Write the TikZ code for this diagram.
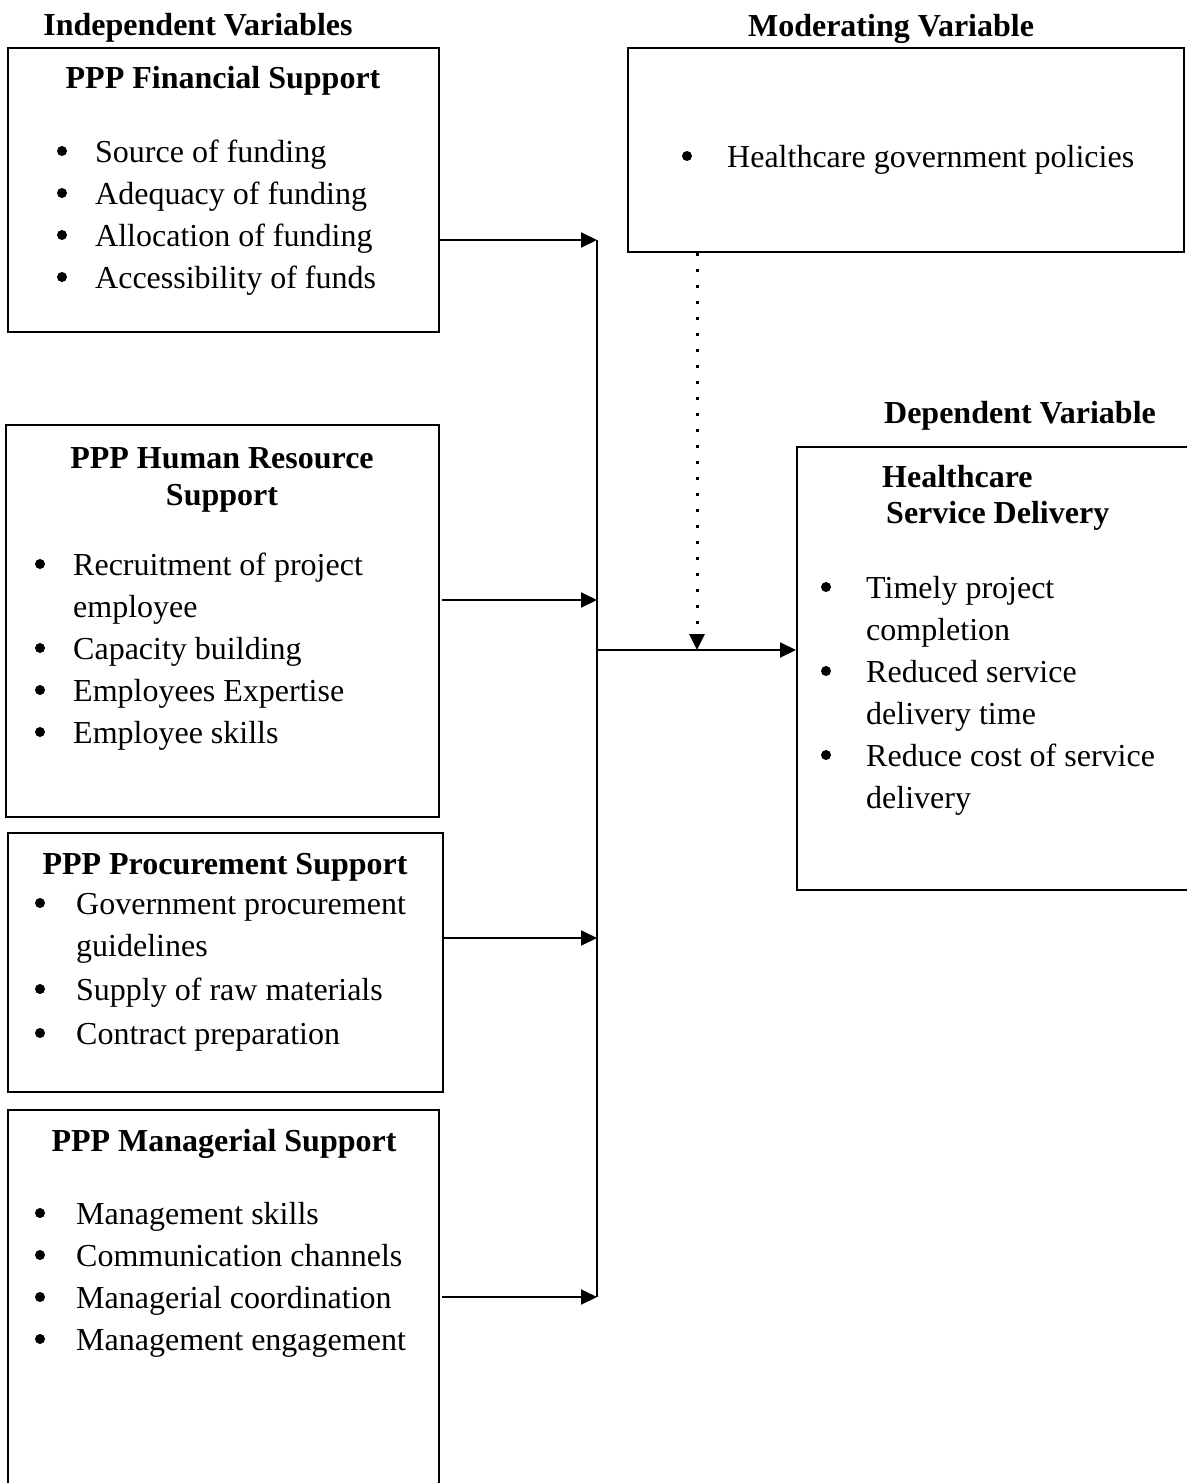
\documentclass[tikz,border=0pt]{standalone}
\usepackage{fontspec}
\setmainfont{Liberation Serif}
\usetikzlibrary{arrows.meta}

\tikzset{
  varbox/.style={draw, line width=2pt, inner sep=0pt},
  head/.style={font=\bfseries, inner sep=0pt, anchor=base},
  item/.style={inner sep=0pt, anchor=base west},
  dot/.style={circle, fill, inner sep=0pt, minimum size=10pt},
  flow/.style={line width=2pt, -{Triangle[length=16pt,width=15pt]}},
  modflow/.style={line width=3pt, dash pattern=on 3pt off 13pt, -{Triangle[length=16pt,width=15pt]}},
}

\begin{document}
\fontsize{32pt}{42pt}\selectfont
\begin{tikzpicture}[x=1pt,y=-1pt]
        \useasboundingbox (0,0) rectangle (1186,1483);
        % group headings
        \node[head] (indep) at (198,35) {Independent Variables};
        \node[head] (moder) at (891,36) {Moderating Variable};
        \node[head] (depen) at (1020,423) {Dependent Variable};
        % boxes
        \node[varbox, minimum width=431pt, minimum height=284pt] (fin) at (223.5,190) {};
        \node[varbox, minimum width=556pt, minimum height=204pt] (mod) at (906,150) {};
        \node[varbox, minimum width=433pt, minimum height=392pt] (hr) at (222.5,621) {};
        \node[varbox, minimum width=435pt, minimum height=259pt] (proc) at (225.5,962.5) {};
        \node[varbox, minimum width=431pt, minimum height=400pt] (man) at (223.5,1310) {};
        \node[varbox, minimum width=413pt, minimum height=443pt] (dep) at (1003.5,668.5) {};
        % box titles
        \node[head] (fin-t) at (223,88) {PPP Financial Support};
        \node[head] (hr-t1) at (222,468) {PPP Human Resource};
        \node[head] (hr-t2) at (222,505) {Support};
        \node[head] (proc-t) at (225,874) {PPP Procurement Support};
        \node[head] (man-t) at (224,1151) {PPP Managerial Support};
        \node[head, anchor=base west] (dep-t1) at (882,487) {Healthcare};
        \node[head, anchor=base west] (dep-t2) at (886,523) {Service Delivery};
        % bullet lists
        \foreach \y/\txt/\b in {162/Source of funding/1, 204/Adequacy of funding/1,
            246/Allocation of funding/1, 288/Accessibility of funds/1} {
          \node[item] (fin-\y) at (95,\y) {\txt};
          \ifnum\b=1 \node[dot] (fin-b\y) at (62,{\y-11}) {}; \fi
        }
        \node[item] (mod-167) at (727,167) {Healthcare government policies};
        \node[dot] (mod-b167) at (687,156) {};
        \foreach \y/\txt/\b in {575/Recruitment of project/1, 617/employee/0,
            659/Capacity building/1, 701/Employees Expertise/1, 743/Employee skills/1} {
          \node[item] (hr-\y) at (73,\y) {\txt};
          \ifnum\b=1 \node[dot] (hr-b\y) at (40,{\y-11}) {}; \fi
        }
        \foreach \y/\txt/\b in {914/Government procurement/1, 956/guidelines/0,
            1000/Supply of raw materials/1, 1044/Contract preparation/1} {
          \node[item] (proc-\y) at (76,\y) {\txt};
          \ifnum\b=1 \node[dot] (proc-b\y) at (40,{\y-11}) {}; \fi
        }
        \foreach \y/\txt/\b in {1224/Management skills/1, 1266/Communication channels/1,
            1308/Managerial coordination/1, 1350/Management engagement/1} {
          \node[item] (man-\y) at (76,\y) {\txt};
          \ifnum\b=1 \node[dot] (man-b\y) at (40,{\y-11}) {}; \fi
        }
        \foreach \y/\txt/\b in {598/Timely project/1, 640/completion/0,
            682/Reduced service/1, 724/delivery time/0,
            766/Reduce cost of service/1, 808/delivery/0} {
          \node[item] (dep-\y) at (866,\y) {\txt};
          \ifnum\b=1 \node[dot] (dep-b\y) at (826,{\y-11}) {}; \fi
        }
        % connectors
        \coordinate (t-fin) at (597,240);
        \coordinate (t-hr) at (597,600);
        \coordinate (t-join) at (597,650);
        \coordinate (t-proc) at (597,938);
        \coordinate (t-man) at (597,1297);
        \coordinate (m-in) at (697,650);
        \draw[line width=2pt] (t-fin) -- (t-man);
        \draw[flow] (fin.east |- t-fin) -- (t-fin);
        \draw[flow] ([xshift=2pt]hr.east |- t-hr) -- (t-hr);
        \draw[flow] (proc.east |- t-proc) -- (t-proc);
        \draw[flow] ([xshift=2pt]man.east |- t-man) -- (t-man);
        \draw[flow] (t-join) -- (dep.west |- t-join);
        \draw[modflow] (mod.south -| m-in) -- (m-in);
\end{tikzpicture}
\end{document}
